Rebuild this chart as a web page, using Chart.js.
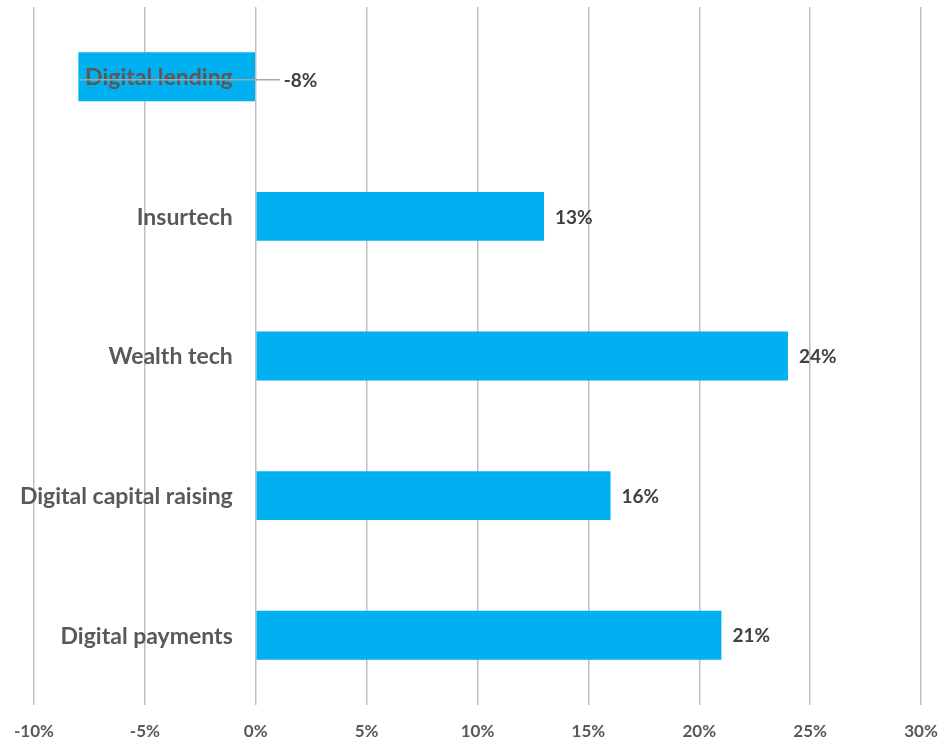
<!DOCTYPE html>
<html>
<head>
<meta charset="utf-8">
<script src="https://cdn.jsdelivr.net/npm/chart.js@4/dist/chart.umd.min.js"></script>
<style>
html,body{margin:0;padding:0;background:#fff;}
#wrap{width:939px;height:741px;position:relative;}
</style>
</head>
<body>
<div id="wrap"><canvas id="c"></canvas></div>
<script>
const categories = ["Digital lending", "Insurtech", "Wealth tech", "Digital capital raising", "Digital payments"];
const values = [-8, 13, 24, 16, 21];
const xMin = -10, xMax = 30, xStep = 5;

const FONT = "Lato, 'Open Sans', sans-serif";

const labelsPlugin = {
  id: 'labelsPlugin',
  afterDatasetsDraw(chart) {
    const ctx = chart.ctx;
    const meta = chart.getDatasetMeta(0);
    const xs = chart.scales.x;
    const ys = chart.scales.y;
    const x0 = xs.getPixelForValue(0);
    ctx.save();
    // category labels next to the zero line
    ctx.font = "bold 23px " + FONT;
    ctx.fillStyle = '#595959';
    ctx.textBaseline = 'middle';
    ctx.textAlign = 'right';
    ys.getLabels().forEach((lab, i) => {
      ctx.fillText(lab, x0 - 23, ys.getPixelForValue(i) + 1);
    });
    // leader line for negative bar
    meta.data.forEach((bar, i) => {
      if (values[i] < 0) {
        ctx.strokeStyle = '#A6A6A6';
        ctx.lineWidth = 1.5;
        ctx.beginPath();
        ctx.moveTo(bar.x, bar.y + 3);
        ctx.lineTo(x0 + 24, bar.y + 3);
        ctx.stroke();
      }
    });
    // value labels
    ctx.font = "bold 19px " + FONT;
    ctx.fillStyle = '#404040';
    ctx.textAlign = 'left';
    meta.data.forEach((bar, i) => {
      const txt = values[i] + '%';
      if (values[i] < 0) {
        ctx.fillText(txt, x0 + 28, bar.y + 4);
      } else {
        ctx.fillText(txt, bar.x + 11, bar.y + 1);
      }
    });
    ctx.restore();
  }
};

new Chart(document.getElementById('c'), {
  type: 'bar',
  data: {
    labels: categories,
    datasets: [{
      data: values,
      backgroundColor: '#00B0F0',
      borderWidth: 0,
      barPercentage: 0.35,
      categoryPercentage: 1.0
    }]
  },
  options: {
    indexAxis: 'y',
    responsive: true,
    maintainAspectRatio: false,
    animation: false,
    layout: { padding: { left: 34, right: 18, top: 7, bottom: 0 } },
    plugins: { legend: { display: false }, tooltip: { enabled: false } },
    scales: {
      x: {
        min: xMin, max: xMax,
        afterFit(scale) {
          scale.paddingLeft = 0;
          scale.paddingRight = 0;
          scale.height = 36;
        },
        ticks: {
          stepSize: xStep,
          callback: v => v + '%',
          color: '#595959',
          font: { family: FONT, size: 17, weight: 'bold' },
          padding: 16,
          maxRotation: 0
        },
        grid: { color: '#BFBFBF', lineWidth: 1.5, drawTicks: false },
        border: { display: false }
      },
      y: {
        display: false
      }
    }
  },
  plugins: [labelsPlugin]
});
</script>
</body>
</html>
